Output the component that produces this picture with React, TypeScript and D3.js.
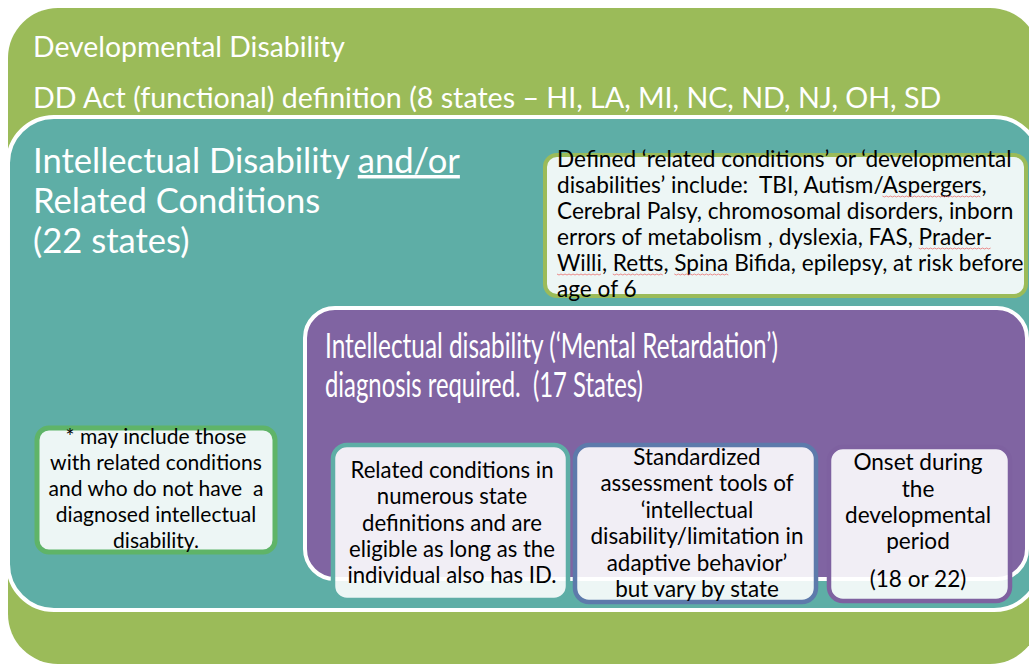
import React, { useEffect, useRef } from "react";
import * as d3 from "d3";

// ---------- content ----------
const headerLines = [
  "Developmental Disability",
  "DD Act (functional) definition (8 states – HI, LA, MI, NC, ND, NJ, OH, SD",
];
const tealTitleLines = ["Intellectual Disability |and/or", "Related Conditions", "(22 states)"];
const definedLines = [
  "Defined ‘related conditions’ or ‘developmental",
  "disabilities’ include:  TBI, Autism/~Aspergers~,",
  "Cerebral Palsy, chromosomal disorders, inborn",
  "errors of metabolism , dyslexia, FAS, ~Prader-~",
  "~Willi~, ~Retts~, ~Spina~ Bifida, epilepsy, at risk before",
  "age of 6",
];
const purpleTitleLines = [
  "Intellectual disability (‘Mental Retardation’)",
  "diagnosis required.  (17 States)",
];
const mayIncludeLines = [
  "* may include those",
  "with related conditions",
  "and who do not have  a",
  "diagnosed intellectual",
  "disability.",
];
const relatedLines = [
  "Related conditions in",
  "numerous state",
  "definitions and are",
  "eligible as long as the",
  "individual also has ID.",
];
const standardLines = [
  "Standardized",
  "assessment tools of",
  "‘intellectual",
  "disability/limitation in",
  "adaptive behavior’",
  "but vary by state",
];
const onsetLines = ["Onset during", "the", "developmental", "period", "(18 or 22)"];

// ---------- layout ----------
const W = 1029;
const H = 664;
const FONT = "Lato, 'Open Sans', sans-serif";

const regions = [
  { id: "dd", x: 8, y: 8, w: 1032, h: 656, r: 50, fill: "#9bbb59", stroke: "none", sw: 0 },
  { id: "id", x: 8, y: 117, w: 1032, h: 493, r: 46, fill: "#5eaea6", stroke: "#ffffff", sw: 4 },
  { id: "mr", x: 305, y: 308, w: 722, h: 271, r: 30, fill: "#8064a2", stroke: "#ffffff", sw: 4 },
];

const boxes = [
  { id: "defined", x: 545, y: 155, w: 481, h: 141, r: 12, stroke: "#9bbb59", sw: 4 },
  { id: "may", x: 37, y: 428, w: 238, h: 124, r: 12, stroke: "#5fb468", sw: 5 },
  { id: "related", x: 333, y: 445, w: 235, h: 155, r: 14, stroke: "#5eaea6", sw: 4.5 },
  { id: "standard", x: 575, y: 445, w: 241, h: 157, r: 14, stroke: "#5d7aab", sw: 4.5 },
  { id: "onset", x: 829, y: 447, w: 181, h: 154, r: 14, stroke: "#7e61a0", sw: 4.5 },
];

type Block = {
  lines: string[];
  x: number;
  y0: number;
  dy: number | number[];
  anchor: "start" | "middle";
  size: number;
  color: string;
  fitLine?: number;
  fitWidth?: number;
  stretch?: number[];
};

const blocks: Block[] = [
  { lines: [headerLines[0]], x: 33, y0: 57, dy: 0, anchor: "start", size: 30, color: "#fff", fitLine: 0, fitWidth: 312 },
  { lines: [headerLines[1]], x: 33, y0: 108, dy: 0, anchor: "start", size: 30, color: "#fff", fitLine: 0, fitWidth: 909 },
  { lines: tealTitleLines, x: 33, y0: 173, dy: 40, anchor: "start", size: 34, color: "#fff", fitLine: 0, fitWidth: 427 },
  { lines: definedLines, x: 557, y0: 167, dy: 26, anchor: "start", size: 19, color: "#000", fitLine: 0, fitWidth: 455 },
  { lines: purpleTitleLines, x: 325, y0: 358, dy: 39, anchor: "start", size: 35, color: "#fff", stretch: [453, 318] },
  { lines: mayIncludeLines, x: 156, y0: 444, dy: 26, anchor: "middle", size: 19, color: "#000", fitLine: 1, fitWidth: 212 },
  { lines: relatedLines, x: 452, y0: 478, dy: 26.3, anchor: "middle", size: 19, color: "#000", fitLine: 3, fitWidth: 206 },
  { lines: standardLines, x: 697, y0: 465, dy: 26.4, anchor: "middle", size: 19, color: "#000", fitLine: 3, fitWidth: 213 },
  { lines: onsetLines, x: 918, y0: 470, dy: [26.5, 26.5, 26, 38], anchor: "middle", size: 19, color: "#000", fitLine: 2, fitWidth: 146 },
];

function drawLine(
  g: d3.Selection<SVGGElement, unknown, null, undefined>,
  line: string,
  x: number,
  y: number,
  b: Block
) {
  const t = g
    .append("text")
    .attr("x", x)
    .attr("y", y)
    .attr("text-anchor", b.anchor)
    .attr("fill", b.color)
    .attr("font-family", FONT)
    .attr("font-size", b.size)
    .style("white-space", "pre");
  // segments: "|" starts underline to end; "~word~" spell-check squiggle
  const underlineIdx = line.indexOf("|");
  if (underlineIdx >= 0) {
    t.append("tspan").text(line.slice(0, underlineIdx));
    t.append("tspan")
      .attr("text-decoration", "underline")
      .style("text-decoration", "underline")
      .text(line.slice(underlineIdx + 1));
    return t;
  }
  const parts = line.split("~");
  parts.forEach((p, i) => {
    if (!p) return;
    const ts = t.append("tspan").text(p);
    if (i % 2 === 1) ts.attr("class", "squiggle");
  });
  return t;
}

export default function App() {
  const ref = useRef<SVGSVGElement | null>(null);

  useEffect(() => {
    const svg = d3.select(ref.current as SVGSVGElement);
    svg.selectAll("*").remove();

    const gR = svg.append("g");
    gR.selectAll("rect")
      .data(regions)
      .join("rect")
      .attr("x", (d) => d.x)
      .attr("y", (d) => d.y)
      .attr("width", (d) => d.w)
      .attr("height", (d) => d.h)
      .attr("rx", (d) => d.r)
      .attr("fill", (d) => d.fill)
      .attr("stroke", (d) => d.stroke)
      .attr("stroke-width", (d) => d.sw);

    const gB = svg.append("g");
    gB.selectAll("rect")
      .data(boxes)
      .join("rect")
      .attr("x", (d) => d.x)
      .attr("y", (d) => d.y)
      .attr("width", (d) => d.w)
      .attr("height", (d) => d.h)
      .attr("rx", (d) => d.r)
      .attr("fill", "#ffffff")
      .attr("fill-opacity", 0.89)
      .attr("stroke", (d) => d.stroke)
      .attr("stroke-width", (d) => d.sw);

    const gT = svg.append("g");
    blocks.forEach((b) => {
      const g = gT.append("g");
      const texts: SVGTextElement[] = [];
      let y = b.y0;
      b.lines.forEach((line, i) => {
        const t = drawLine(g, line, b.x, y, b);
        texts.push(t.node() as SVGTextElement);
        const dy = Array.isArray(b.dy) ? b.dy[i] ?? 26 : b.dy;
        y += dy;
      });
      if (b.fitLine !== undefined && b.fitWidth) {
        const len = texts[b.fitLine].getComputedTextLength();
        if (len > 0) {
          const s = (b.size * b.fitWidth) / len;
          g.selectAll("text").attr("font-size", s);
        }
      }
      if (b.stretch) {
        texts.forEach((t, i) => {
          if (b.stretch && b.stretch[i]) {
            t.setAttribute("textLength", String(b.stretch[i]));
            t.setAttribute("lengthAdjust", "spacingAndGlyphs");
          }
        });
      }
    });

    // spell-check squiggles under marked words
    const gS = svg.append("g");
    svg.selectAll<SVGTSpanElement, unknown>("tspan.squiggle").each(function () {
      const bb = this.getBBox();
      const text = this.parentNode as SVGTextElement;
      const by = +text.getAttribute("y")! + 3;
      const pts: [number, number][] = [];
      for (let x = bb.x; x <= bb.x + bb.width; x += 2) {
        pts.push([x, by + ((Math.round((x - bb.x) / 2) % 2) ? 1 : 0)]);
      }
      gS.append("path")
        .attr("d", d3.line()(pts) as string)
        .attr("fill", "none")
        .attr("stroke", "#e8706f")
        .attr("stroke-width", 0.8);
    });
  }, []);

  return (
    <svg
      ref={ref}
      width={W}
      height={H}
      viewBox={`0 0 ${W} ${H}`}
      style={{ position: "fixed", left: 0, top: 0, background: "#ffffff", display: "block" }}
    />
  );
}
